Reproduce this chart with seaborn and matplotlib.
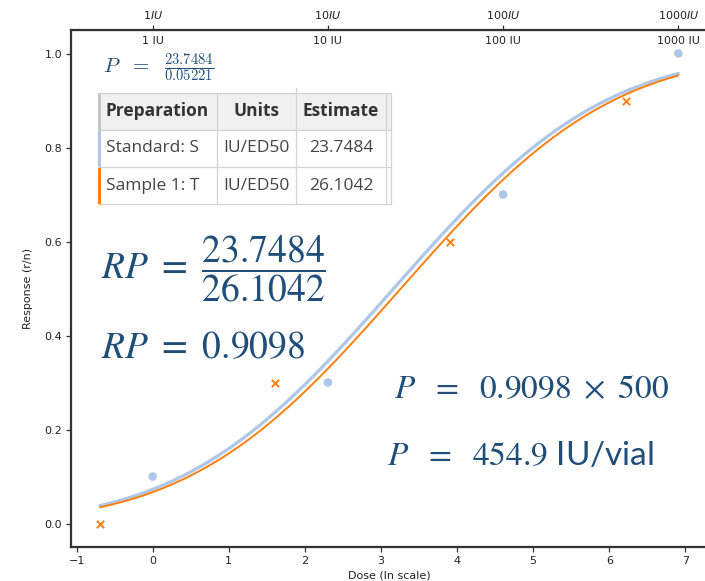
import math

import numpy as np
import pandas as pd
import matplotlib
matplotlib.use("Agg")
import matplotlib.pyplot as plt
import seaborn as sns
from matplotlib.patches import Rectangle

# ---- assay data -----------------------------------------------------------
std_dose = [1, 10, 100, 1000]
std_response = [0.1, 0.3, 0.7, 1.0]
smp_dose = [0.5, 5, 50, 500]
smp_response = [0.0, 0.3, 0.6, 0.9]

# fitted parallel probit model (common slope, per-preparation ED50)
ed50_std = 23.7484
ed50_smp = 26.1042
probit_slope = 0.46

top_doses = [1, 10, 100, 1000]

table_header = ["Preparation", "Units", "Estimate"]
table_rows = [["Standard: S", "IU/ED50", "23.7484"],
              ["Sample 1: T", "IU/ED50", "26.1042"]]

rp_value = "0.9098"
label_claim = "500"
potency = "454.9"
p_denominator = "0.05221"

BLUE = "#aec7e8"
ORANGE = "#ff7f0e"
NAVY = "#1F4E79"
W, H = 705, 581

sns.set_style("ticks")
plt.rcParams["font.family"] = ["DejaVu Sans"]


def probit_curve(x, ed50):
    z = probit_slope * (x - math.log(ed50))
    return np.array([0.5 * (1 + math.erf(v / math.sqrt(2))) for v in z])


std = pd.DataFrame({"ln_dose": np.log(std_dose), "response": std_response})
smp = pd.DataFrame({"ln_dose": np.log(smp_dose), "response": smp_response})
xs = np.linspace(min(np.log(smp_dose)), max(np.log(std_dose)), 300)
fit = pd.DataFrame({"ln_dose": xs,
                    "std": probit_curve(xs, ed50_std),
                    "smp": probit_curve(xs, ed50_smp)})

fig = plt.figure(figsize=(W / 100, H / 100), dpi=100)
ax = fig.add_axes([71 / W, 34 / H, 636.3 / W, 517 / H])

sns.lineplot(data=fit, x="ln_dose", y="std", color=BLUE, lw=2.3, ax=ax)
sns.lineplot(data=fit, x="ln_dose", y="smp", color=ORANGE, lw=1.4, ax=ax)
sns.scatterplot(data=std, x="ln_dose", y="response", color=BLUE, s=38,
                marker="o", edgecolor="none", ax=ax, zorder=3)
sns.scatterplot(data=smp, x="ln_dose", y="response", color=ORANGE, s=28,
                marker="x", linewidth=1.4, ax=ax, zorder=3)

ax.set_xlim(-1.073, 7.288)
ax.set_ylim(-0.05, 1.05)
ax.set_xticks(range(-1, 8))
ax.set_yticks([0.0, 0.2, 0.4, 0.6, 0.8, 1.0])
ax.set_xlabel("Dose (ln scale)", fontsize=8, color="#222222", labelpad=3)
ax.set_ylabel("Response (r/n)", fontsize=8, color="#222222", labelpad=8)
ax.tick_params(labelsize=8, length=3.5, width=0.9, colors="#333333",
               labelcolor="#222222", pad=3)
for side in ("left", "bottom", "top", "right"):
    ax.spines[side].set_visible(True)
    ax.spines[side].set_linewidth(1.6)
    ax.spines[side].set_color("#333333")

# dose scale on the top edge
top = ax.secondary_xaxis("top")
top.set_xticks(np.log(top_doses))
top.set_xticklabels([f"${d}IU$" for d in top_doses])
top.tick_params(labelsize=8, length=3.5, width=0.9, colors="#333333",
                labelcolor="#222222", pad=3)
for d in top_doses:
    ax.text(math.log(d), 1.026, f"{d} IU", ha="center", va="center",
            fontsize=8, color="#222222")

# ---- overlay in pixel coordinates: results table and potency working ----
ov = fig.add_axes([0, 0, 1, 1])
ov.set_xlim(0, W)
ov.set_ylim(H, 0)
ov.axis("off")

col_edges = [98, 217, 296, 386, 391]
row_edges = [93, 130, 167, 204]
grid = "#d3d3d3"
ov.add_patch(Rectangle((col_edges[0], row_edges[0]), col_edges[-1] - col_edges[0],
                       row_edges[1] - row_edges[0], facecolor="#f0f0f0",
                       edgecolor="none"))
ov.add_patch(Rectangle((col_edges[0], row_edges[1]), col_edges[-1] - col_edges[0],
                       row_edges[-1] - row_edges[1], facecolor="white",
                       edgecolor="none"))
for y in row_edges:
    ov.plot([col_edges[0], col_edges[-1]], [y, y], color=grid, lw=0.9)
for x in col_edges[1:]:
    ov.plot([x, x], [row_edges[0], row_edges[-1]], color=grid, lw=0.9)
ov.plot([296, 296], [88, 93], color=grid, lw=0.9)
for (y0, y1), c in zip(zip(row_edges[:-1], row_edges[1:]), ["#c4c4c4", BLUE, ORANGE]):
    ov.add_patch(Rectangle((98, y0), 3, y1 - y0, facecolor=c, edgecolor="none"))

col_centres = [(a + b) / 2 for a, b in zip(col_edges[:3], col_edges[1:4])]
for i, txt in enumerate(table_header):
    ov.text(col_centres[i], (row_edges[0] + row_edges[1]) / 2, txt,
            ha="center", va="center", fontsize=12.5, fontweight="bold",
            family="Open Sans", color="#333333")
for r, row in enumerate(table_rows):
    yc = (row_edges[r + 1] + row_edges[r + 2]) / 2
    ov.text(106, yc, row[0], ha="left", va="center", fontsize=12.5,
            family="Open Sans", color="#444444")
    for c in (1, 2):
        ov.text(col_centres[c], yc, row[c], ha="center", va="center",
                fontsize=12.5, family="Open Sans", color="#444444")

ov.text(103, 73, rf"$P\ \ =\ \ \frac{{{table_rows[0][2]}}}{{{p_denominator}}}$",
        ha="left", va="baseline", fontsize=15, color=NAVY,
        math_fontfamily="cm")

big = dict(color=NAVY, math_fontfamily="stix", ha="left", va="baseline")
ov.text(101, 278, rf"$RP\ =\ \dfrac{{{table_rows[0][2]}}}{{{table_rows[1][2]}}}$",
        fontsize=27, **big)
ov.text(101, 358, rf"$RP\ =\ {rp_value}$", fontsize=27, **big)
ov.text(394, 398, rf"$P\ \ =\ \ {rp_value}\ \times\ {label_claim}$",
        fontsize=24, **big)
ov.text(387, 465, rf"$P\ \ =\ \ {potency}$ IU/vial", fontsize=24,
        family="Lato", **big)

fig.savefig("out.png", dpi=100)
